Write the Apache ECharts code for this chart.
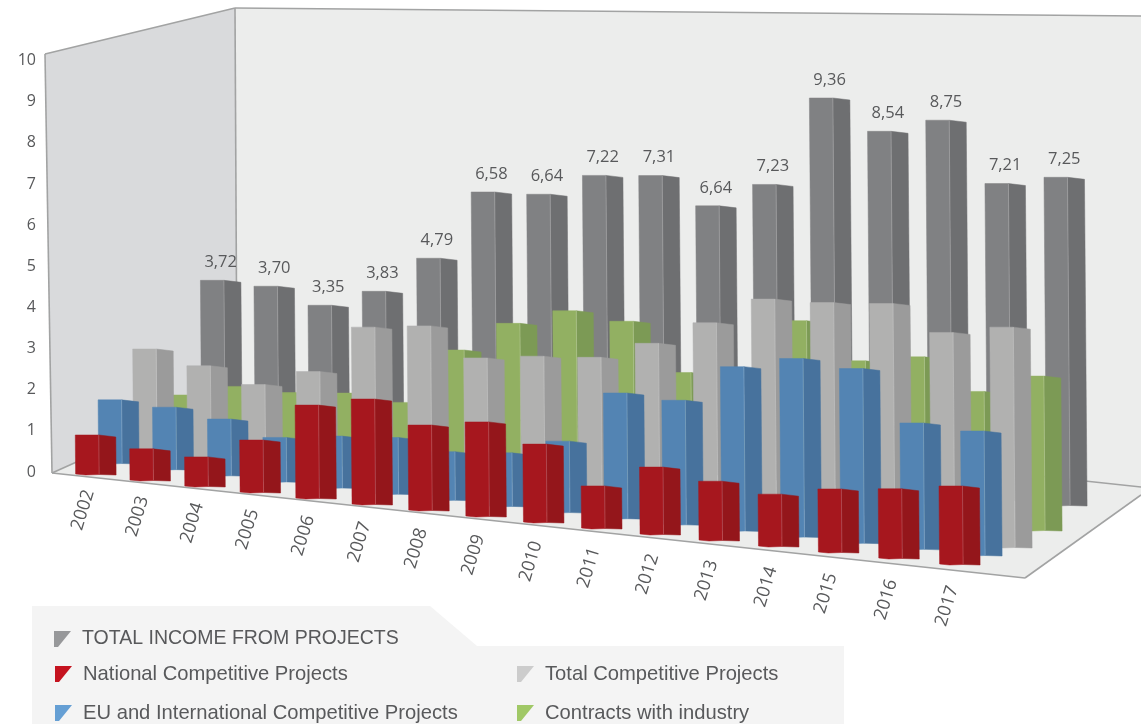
<!DOCTYPE html>
<html><head><meta charset="utf-8">
<style>html,body{margin:0;padding:0;background:#fff}#c{width:1141px;height:724px}</style>
<script src="https://cdn.jsdelivr.net/npm/echarts@6/dist/echarts.min.js"></script>
</head><body><div id="c"></div>
<script>
const categories = ['2002','2003','2004','2005','2006','2007','2008','2009','2010','2011','2012','2013','2014','2015','2016','2017'];
const totalIncome = [3.72,3.70,3.35,3.83,4.79,6.58,6.64,7.22,7.31,6.64,7.23,9.36,8.54,8.75,7.21,7.25];
const contractsIndustry = [1.35,1.70,1.68,1.80,1.70,3.13,3.91,4.33,4.17,3.02,1.98,4.41,3.53,3.67,2.94,3.31];
const totalCompetitive = [2.74,2.47,2.15,2.61,3.84,4.00,3.34,3.50,3.58,4.01,4.57,5.17,5.12,5.11,4.48,4.58];
const euInternational = [1.54,1.51,1.37,1.07,1.25,1.36,1.16,1.27,1.68,2.93,2.86,3.71,3.95,3.77,2.65,2.53];
const nationalCompetitive = [0.94,0.75,0.70,1.25,2.23,2.51,2.02,2.22,1.82,0.97,1.52,1.31,1.13,1.34,1.43,1.56];
const yTicks = [0,1,2,3,4,5,6,7,8,9,10];

const NAME_TOTAL='TOTAL INCOME FROM PROJECTS', NAME_IND='Contracts with industry', NAME_TC='Total Competitive Projects', NAME_EU='EU and International Competitive Projects', NAME_NAT='National Competitive Projects';

// depth-row projection parameters (perspective of the 3D floor)
const ROW_GREY ={x0:201,dx:845,bend:45,y0:428,dy:77,s0:39.7,s1:45.2,pow:4};
const ROW_GREEN={x0:167,dx:854,bend:48,y0:449,dy:81,s0:40,s1:46.5,pow:3};
const ROW_SILV ={x0:133,dx:858,bend:50,y0:460,dy:87,s0:40.5,s1:48,pow:3};
const ROW_BLUE ={x0:98, dx:863,bend:50,y0:463,dy:92,s0:41,s1:49,pow:3};
const ROW_RED  ={x0:75, dx:864,bend:52,y0:474,dy:90,s0:41.5,s1:50,pow:3};
const W=23.5,D=17;
const TXT='#58595b';

function project(api,i,v,row){
  const p0=api.coord([i,0]),pv=api.coord([i,v]);
  const a=api.coord([0,0]),b=api.coord([categories.length-1,0]),u=api.coord([0,1]);
  const n=(p0[0]-a[0])/(b[0]-a[0]);
  const units=(p0[1]-pv[1])/(a[1]-u[1]);
  const x=row.x0+row.dx*n+row.bend*(n*n-n);
  const yb=row.y0+row.dy*n;
  const s=row.s0+(row.s1-row.s0)*Math.pow(n,row.pow);
  return {x,yb,h:units*s,n};
}
function barItem(row,front,side,withLabel){
  return function(params,api){
    const i=api.value(0),v=api.value(1);
    const q=project(api,i,v,row);
    const xb=q.x+0.6,xt=xb-0.008*q.h,yt=q.yb-q.h,yb=q.yb;
    const kids=[
      {type:'polygon',shape:{points:[[xt+W,yt],[xt+W+D,yt+2],[xb+W+D,yb+1],[xb+W,yb+0.5]]},style:{fill:side,stroke:side,lineWidth:0.5}},
      {type:'polygon',shape:{points:[[xt,yt],[xt+W,yt],[xb+W,yb+0.5],[xb+10,yb+1],[xb,yb]]},style:{fill:front,stroke:front,lineWidth:0.5}},
      {type:'line',shape:{x1:xt+W,y1:yt,x2:xb+W,y2:yb+0.5},style:{stroke:'rgba(255,255,255,0.18)',lineWidth:1}}
    ];
    if(withLabel){
      kids.push({type:'text',style:{text:v.toFixed(2).replace('.',','),x:xt+(W+D)/2,y:yt-18,align:'center',verticalAlign:'middle',fill:TXT,font:'16.5px "Open Sans"'}});
    }
    return {type:'group',children:kids};
  };
}
function yearItem(params,api){
  const i=api.value(0);
  const q=project(api,i,0,ROW_RED);
  return {type:'text',rotation:1.27,x:q.x+8,y:q.yb+36+6*q.n,style:{text:categories[i],x:0,y:0,align:'center',verticalAlign:'middle',fill:TXT,font:'18px "Open Sans"'}};
}
const pairs=a=>a.map((v,i)=>[i,v]);
function barSeries(name,vals,row,front,side,lab){
  return {type:'custom',name,data:pairs(vals),renderItem:barItem(row,front,side,lab),itemStyle:{color:front},encode:{x:0,y:1},silent:true,clip:false};
}
const TRI='path://M0 0L17 0L4 16L0 16Z';
function legendAt(name,left,top,color,size){
  return {show:true,data:[{name,icon:TRI,itemStyle:{color}}],left,top,padding:0,itemWidth:17,itemHeight:16,selectedMode:false,
    textStyle:{color:'#58595b',fontFamily:'Liberation Sans',fontSize:size,padding:[0,0,0,6]}};
}
const poly=(pts,fill,stroke)=>({type:'polygon',z:0,silent:true,shape:{points:pts},style:{fill,stroke:stroke||null,lineWidth:stroke?2:0}});
const line=(a,b)=>({type:'line',z:0,silent:true,shape:{x1:a[0],y1:a[1],x2:b[0],y2:b[1]},style:{stroke:'#a2a3a3',lineWidth:1.6}});

const chart=echarts.init(document.getElementById('c'),null,{renderer:'canvas'});
chart.setOption({
  animation:false,
  backgroundColor:'#fff',
  grid:{left:41,right:20,top:60.5,height:411.5,containLabel:false},
  xAxis:{type:'category',data:categories,show:false},
  yAxis:{type:'value',min:yTicks[0],max:yTicks[yTicks.length-1],interval:1,
    axisLine:{show:false},axisTick:{show:false},splitLine:{show:false},
    axisLabel:{color:TXT,fontFamily:'Open Sans',fontSize:16,margin:5}},
  graphic:{elements:[
    poly([[45,54],[235,8],[237,390],[52,473]],'#d9dadc'),
    poly([[235,8],[1141,16],[1141,487],[237,390]],'#ecedec'),
    poly([[52,473],[237,390],[1141,487],[1141,495],[1025,578]],'#ecedec'),
    line([45,54],[235,8]),line([235,8],[1141,16]),line([45,54],[52,473]),line([235,8],[237,390]),
    line([52,473],[1025,578]),line([1025,578],[1141,495]),line([52,473],[237,390]),line([237,390],[1141,487]),
    poly([[32,606],[430,606],[477,646],[844,646],[844,724],[32,724]],'#f4f4f4')
  ]},
  legend:[
    legendAt(NAME_TOTAL,54,629,'#97989a',19.5),
    legendAt(NAME_NAT,55,664,'#c5131f',20.2),
    legendAt(NAME_EU,55,703,'#659fd4',20.2),
    legendAt(NAME_TC,517,664,'#cccccc',20.2),
    legendAt(NAME_IND,517,703,'#a0c866',20.2)
  ],
  series:[
    barSeries(NAME_TOTAL,totalIncome,ROW_GREY,'#808183','#6e6f71',true),
    barSeries(NAME_IND,contractsIndustry,ROW_GREEN,'#92b062','#7c9a55',false),
    barSeries(NAME_TC,totalCompetitive,ROW_SILV,'#b1b1b0','#9b9b9b',false),
    barSeries(NAME_EU,euInternational,ROW_BLUE,'#5384b3','#47729d',false),
    barSeries(NAME_NAT,nationalCompetitive,ROW_RED,'#a6171e','#94161b',false),
    {type:'custom',name:'years',data:pairs(categories.map(()=>0)),renderItem:yearItem,encode:{x:0,y:1},silent:true,clip:false}
  ]
});
</script></body></html>
